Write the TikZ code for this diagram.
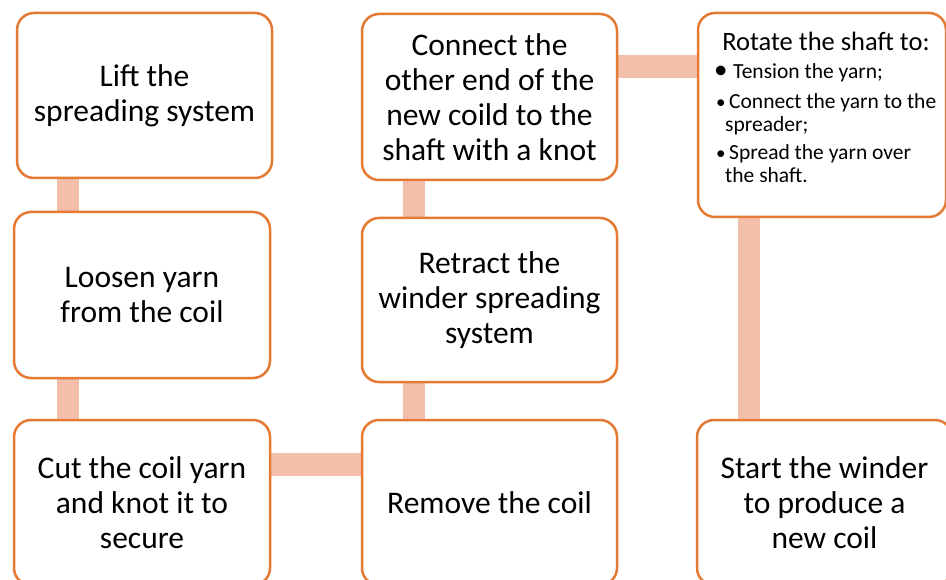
\documentclass[tikz,border=0pt]{standalone}
\usepackage{fontspec}
\setmainfont{Carlito}
\usetikzlibrary{backgrounds}
\definecolor{boxline}{HTML}{E47A34}
\definecolor{barcol}{HTML}{F4BFAA}
\begin{document}
\begin{tikzpicture}[x=1pt,y=-1pt,
  stepbox/.style={draw=boxline, line width=2.5pt, fill=white, rounded corners=17pt,
    align=center, font=\fontsize{31.5}{35}\selectfont, inner sep=0pt},
  bar/.style={draw=barcol, line width=22.5pt},
  smalltxt/.style={anchor=base west, inner sep=0pt, font=\fontsize{21.5}{23}\selectfont}]
\useasboundingbox (0,0) rectangle (946,580);
\clip (0,0) rectangle (946,580);
\node[stepbox, minimum width=255pt, minimum height=165pt] (A) at (144.5,95.5) {Lift the\\spreading system};
\node[stepbox, minimum width=256pt, minimum height=166pt] (B) at (142,295) {Loosen yarn\\from the coil};
\node[stepbox, minimum width=256pt, minimum height=165pt] (C) at (142,502.5) {Cut the coil yarn\\and knot it to\\secure};
\node[stepbox, minimum width=255pt, minimum height=165pt] (D) at (489.5,502.5) {Remove the coil};
\node[stepbox, minimum width=255pt, minimum height=164pt] (E) at (489.5,300) {Retract the\\winder spreading\\system};
\node[stepbox, minimum width=255pt, minimum height=166pt] (F) at (489.5,97) {Connect the\\other end of the\\new coild to the\\shaft with a knot};
\node[stepbox, minimum width=248pt, minimum height=204pt] (G) at (822,115) {};
\node[stepbox, minimum width=255pt, minimum height=165pt] (H) at (824.5,502.5) {Start the winder\\to produce a\\new coil};
\node[anchor=base, inner sep=0pt, font=\fontsize{26.5}{30}\selectfont] (Gt) at (826,51) {Rotate the shaft to:};
\node[smalltxt, font=\fontsize{27}{27}\selectfont] (Gb1) at (714,79) {•};
\node[smalltxt] (Gt1) at (733,79) {Tension the yarn;};
\node[smalltxt, font=\fontsize{19}{23}\selectfont] (Gb2) at (716,109) {•};
\node[smalltxt] (Gt2) at (729,109) {Connect the yarn to the};
\node[smalltxt] (Gt2b) at (725,132) {spreader;};
\node[smalltxt, font=\fontsize{19}{23}\selectfont] (Gb3) at (716,160) {•};
\node[smalltxt] (Gt3) at (729,160) {Spread the yarn over};
\node[smalltxt] (Gt3b) at (725,183) {the shaft.};
\begin{scope}[on background layer]
\draw[bar] ([xshift=-76.5pt]A.south) -- ([xshift=-74pt]B.north);
\draw[bar] ([xshift=-74pt]B.south) -- ([xshift=-74pt]C.north);
\draw[bar] ([yshift=38pt]C.east) -- ([yshift=38pt]D.west);
\draw[bar] ([xshift=-75.5pt]D.north) -- ([xshift=-75.5pt]E.south);
\draw[bar] ([xshift=-75.5pt]E.north) -- ([xshift=-75.5pt]F.south);
\draw[bar] ([yshift=30.5pt]F.east) -- ([yshift=48.5pt]G.west);
\draw[bar] ([xshift=-73pt]G.south) -- ([xshift=-75.5pt]H.north);
\end{scope}
\end{tikzpicture}
\end{document}
